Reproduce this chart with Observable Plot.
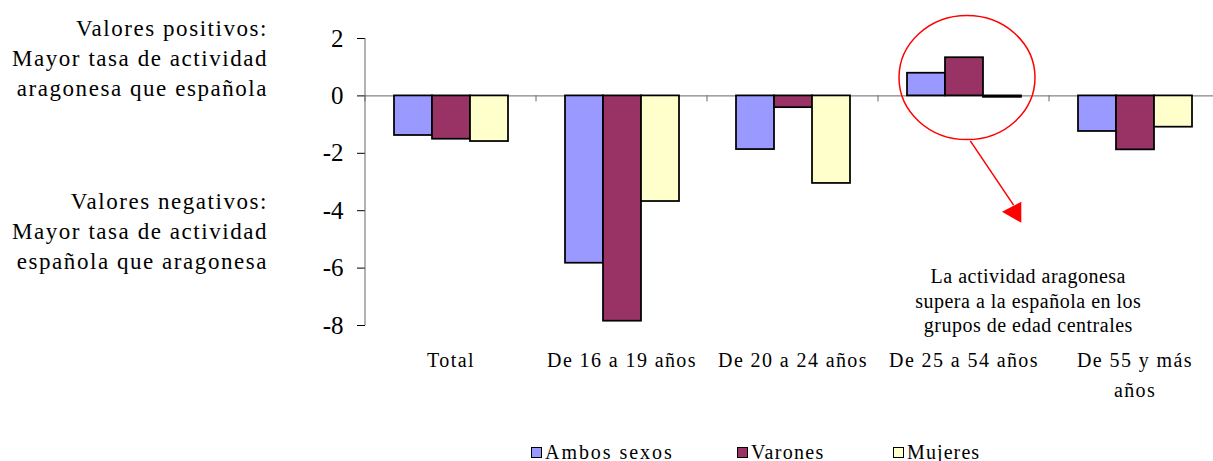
<!DOCTYPE html>
<html><head><meta charset="utf-8">
<script src="https://cdn.jsdelivr.net/npm/d3@7"></script>
<script src="https://cdn.jsdelivr.net/npm/@observablehq/plot@0.6"></script>
<style>
html,body{margin:0;padding:0;background:#fff;overflow:hidden}
#wrap{position:relative;width:1213px;height:461px;color:#000}
.side{position:absolute;left:0;width:268px;text-align:right;font-size:23px;line-height:30px;letter-spacing:1.55px;white-space:nowrap}
#legend{position:absolute;left:0;top:440px;width:1213px;height:24px;font-size:20px;line-height:24px;white-space:nowrap}
.item{position:absolute;top:0;display:flex;align-items:center}
.sw{width:11px;height:11px;border:1px solid #000;margin-right:3px;box-sizing:border-box;flex:none}
</style></head><body>
<div id="wrap"><div id="chart"></div></div>
<script>
const categories = ["Total", "De 16 a 19 años", "De 20 a 24 años", "De 25 a 54 años", "De 55 y más años"];
const categoryLabels = ["Total", "De 16 a 19 años", "De 20 a 24 años", "De 25 a 54 años", "De 55 y más\naños"];
const series = ["Ambos sexos", "Varones", "Mujeres"];
const ambos = [-1.38, -5.83, -1.87, 0.79, -1.24];
const varones = [-1.51, -7.85, -0.41, 1.33, -1.88];
const mujeres = [-1.59, -3.68, -3.05, -0.05, -1.09];
const colors = ["#9999FF", "#993366", "#FFFFCC"];
const yTicks = [-8, -6, -4, -2, 0, 2];
const positiveNote = ["Valores positivos:", "Mayor tasa de actividad", "aragonesa que española"];
const negativeNote = ["Valores negativos:", "Mayor tasa de actividad", "española que aragonesa"];
const noteLines = ["La actividad aragonesa", "supera a la española en los", "grupos de edad centrales"];
const notes = [{cat: "De 25 a 54 años", series: "Varones", value: 0.62}];

const seriesValues = [ambos, varones, mujeres];
const rows = categories.flatMap((c, i) => series.map((s, j) => ({cat: c, series: s, value: seriesValues[j][i]})));

const FONT = '"Liberation Serif", "Times New Roman", Times, "DejaVu Serif", serif';

const chart = Plot.plot({
  width: 1213,
  height: 432,
  marginLeft: 365,
  marginRight: -7,
  marginTop: 38,
  marginBottom: 107,
  style: {fontFamily: FONT, fontSize: "20px", background: "#fff", color: "#000", overflow: "visible"},
  fx: {domain: categories, padding: 0, label: null},
  x: {domain: series, paddingInner: 0, paddingOuter: 0.715, axis: null, label: null},
  y: {domain: [-8, 2], label: null},
  color: {domain: series, range: colors},
  marks: [
    Plot.ruleY([0], {stroke: "#666", strokeWidth: 1}),
    Plot.barY(rows, {fx: "cat", x: "series", y: "value", fill: "series", stroke: "#000", strokeWidth: 1.75}),
    Plot.axisY({ticks: yTicks, tickSize: 8, tickPadding: 14, fontSize: 25, tickFormat: d => String(d), label: null}),
    Plot.axisFx({anchor: "bottom", tickSize: 0, tickPadding: 20, fontSize: 20, label: null, lineHeight: 1.5,
      tickFormat: d => categoryLabels[categories.indexOf(d)]})
  ]
});
document.getElementById("chart").append(chart);

// Extra decorations positioned with the chart's own scales
const fxS = chart.scale("fx"), xS = chart.scale("x"), yS = chart.scale("y");
const xOff = xS.range[0];
const bandStart = cat => fxS.apply(cat);
const barCenter = (cat, s) => fxS.apply(cat) + xS.apply(s) - xOff + xS.bandwidth / 2;
const svg = d3.select(chart);
const deco = svg.append("g").attr("aria-label", "decorations");
const y0 = yS.apply(0);
categories.forEach(c => {
  deco.append("line").attr("x1", bandStart(c)).attr("x2", bandStart(c)).attr("y1", y0).attr("y2", y0 + 6)
    .attr("stroke", "#666").attr("stroke-width", 1);
});
deco.append("line").attr("x1", fxS.range[0]).attr("x2", fxS.range[0])
  .attr("y1", yS.apply(d3.max(yTicks))).attr("y2", yS.apply(d3.min(yTicks)))
  .attr("stroke", "#666").attr("stroke-width", 1);

notes.forEach(d => {
  const cx = barCenter(d.cat, d.series) + 3;
  const cy = yS.apply(d.value);
  deco.append("ellipse").attr("cx", cx).attr("cy", cy).attr("rx", 68).attr("ry", 62)
    .attr("fill", "none").attr("stroke", "#FF0000").attr("stroke-width", 1.5);
  deco.append("line").attr("x1", cx + 3.3).attr("y1", cy + 63.2).attr("x2", cx + 46.6).attr("y2", cy + 127.5)
    .attr("stroke", "#FF0000").attr("stroke-width", 1.5);
  deco.append("polygon")
    .attr("points", [[cx + 35, cy + 134.2], [cx + 54.3, cy + 124.2], [cx + 54.3, cy + 145.2]].map(p => p.join(",")).join(" "))
    .attr("fill", "#FF0000");
  const t = deco.append("text").attr("text-anchor", "middle").attr("font-size", 20)
    .attr("letter-spacing", "0.5px").attr("fill", "#000");
  noteLines.forEach((line, k) => {
    t.append("tspan").attr("x", cx + 61.3).attr("y", cy + 205.2 + k * 24.8).text(line);
  });
});

// fonts as inline styles
svg.selectAll("text").style("font-family", FONT);
svg.selectAll('g[aria-label="fx-axis tick label"] text').style("letter-spacing", "1.4px");

const wrap = document.getElementById("wrap");
function sideBlock(lines, top) {
  const div = document.createElement("div");
  div.className = "side";
  div.style.top = top + "px";
  div.style.fontFamily = FONT;
  lines.forEach((l, k) => {
    if (k) div.appendChild(document.createElement("br"));
    div.appendChild(document.createTextNode(l));
  });
  wrap.appendChild(div);
}
sideBlock(positiveNote, 14);
sideBlock(negativeNote, 187);

// legend (item layout)
const legendLeft = [531, 737, 893];
const legendSpacing = [1.95, 1.3, 1.1];
const legend = document.createElement("div");
legend.id = "legend";
legend.style.fontFamily = FONT;
series.forEach((s, j) => {
  const item = document.createElement("div");
  item.className = "item";
  item.style.left = legendLeft[j] + "px";
  item.style.letterSpacing = legendSpacing[j] + "px";
  const sw = document.createElement("span");
  sw.className = "sw";
  sw.style.background = colors[j];
  const label = document.createElement("span");
  label.textContent = s;
  item.append(sw, label);
  legend.appendChild(item);
});
wrap.appendChild(legend);
</script>
</body></html>
